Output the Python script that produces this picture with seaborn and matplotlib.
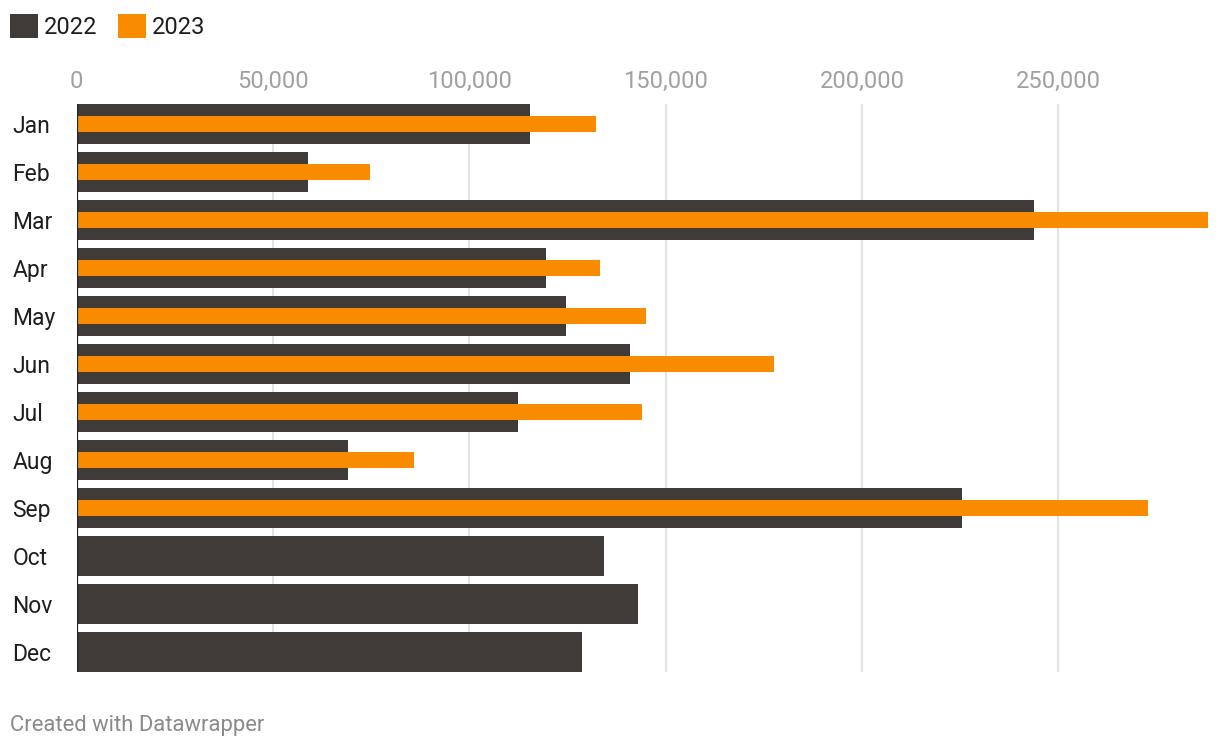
import matplotlib
matplotlib.use("Agg")
import matplotlib.pyplot as plt
from matplotlib.patches import Patch
from matplotlib.ticker import FuncFormatter
import seaborn as sns
import pandas as pd

months = ['Jan', 'Feb', 'Mar', 'Apr', 'May', 'Jun', 'Jul', 'Aug', 'Sep', 'Oct', 'Nov', 'Dec']
v2022 = [115500, 58900, 243800, 119500, 124600, 140900, 112400, 69100, 225400, 134300, 142900, 128700]
months_2023 = ['Jan', 'Feb', 'Mar', 'Apr', 'May', 'Jun', 'Jul', 'Aug', 'Sep']
v2023 = [132300, 74700, 288100, 133300, 145100, 177600, 143900, 85900, 272800]
xticks = [0, 50000, 100000, 150000, 200000, 250000]

DARK = '#403b38'
ORANGE = '#f98b00'

sns.set_theme(style='white')
plt.rcParams['font.family'] = ['Roboto', 'DejaVu Sans']

df22 = pd.DataFrame({'month': months, 'value': v2022})
df23 = pd.DataFrame({'month': months_2023, 'value': v2023})

W, H = 1220, 750
fig = plt.figure(figsize=(W / 100, H / 100), dpi=100)
ax = fig.add_axes([76.5 / W, 1 - 672 / H, (1208 - 76.5) / W, (672 - 104) / H])

sns.barplot(data=df22, y='month', x='value', order=months, orient='h',
            color=DARK, width=40 / 48, saturation=1, ax=ax, zorder=2,
            linewidth=0, errorbar=None)
sns.barplot(data=df23, y='month', x='value', order=months, orient='h',
            color=ORANGE, width=16 / 48, saturation=1, ax=ax, zorder=3,
            linewidth=0, errorbar=None)

ax.set_xlim(0, max(v2023))
ax.set_ylim(11.5 - 4 / 48, -0.5 + 4 / 48)
ax.set_xticks(xticks)
ax.xaxis.set_major_formatter(FuncFormatter(lambda v, p: f'{int(v):,}'))
ax.xaxis.tick_top()
ax.tick_params(axis='x', length=0, pad=8, labelsize=17, labelcolor='#a0a0a0')
ax.tick_params(axis='y', length=0, pad=46, labelsize=16.5, labelcolor='#1e1e1e')
for lab in ax.get_yticklabels():
    lab.set_horizontalalignment('left')
ax.set_xlabel('')
ax.set_ylabel('')
for s in ax.spines.values():
    s.set_visible(False)
ax.grid(axis='x', color='#e3e3e3', linewidth=1.5, zorder=0)
ax.grid(axis='y', visible=False)
ax.set_axisbelow(True)
ax.axvline(0, color='#222222', linewidth=1.6, zorder=4)

handles = [Patch(facecolor=DARK, edgecolor='none'), Patch(facecolor=ORANGE, edgecolor='none')]
fig.legend(handles, ['2022', '2023'], loc='upper left', bbox_to_anchor=(10 / W, 1 - 14 / H),
           ncol=2, frameon=False, fontsize=17, handlelength=1.19, handleheight=1.19,
           handletextpad=0.25, columnspacing=0.85, borderpad=0, borderaxespad=0,
           labelcolor='#1e1e1e')

fig.text(10 / W, 1 - 726 / H, 'Created with Datawrapper', fontsize=15.8, color='#8a8a8a',
         ha='left', va='center')

fig.savefig('out.png', dpi=100, facecolor='white')
